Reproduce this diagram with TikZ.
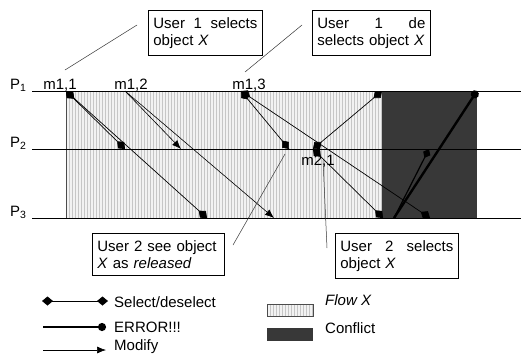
\documentclass[tikz,border=0pt]{standalone}
\usepackage{fontspec}
\setmainfont{Liberation Sans}
\usetikzlibrary{arrows.meta}
\usetikzlibrary{patterns}

\begin{document}
\begin{tikzpicture}[x=1pt, y=-1pt, >=Latex,
    every node/.style={font=\fontsize{15}{17}\selectfont, inner sep=0pt},
    proc/.style={line width=0.8pt},
    sel/.style={line width=0.7pt, {Diamond[length=11pt,width=9pt]}-{Diamond[length=11pt,width=9pt]}},
    mod/.style={line width=0.6pt, -{Latex[length=9pt,width=7pt]}},
    err/.style={line width=2.4pt, -{Circle[length=8pt]}},
    note/.style={draw, line width=0.8pt, anchor=north west, align=left,
      inner xsep=5pt, inner ysep=7pt},
    leader/.style={line width=0.5pt, black!80}]
  \useasboundingbox (0,0) rectangle (521,354);

  % flow and conflict regions
  \fill[gray!10] (66,91) rectangle (382,218);
  \fill[pattern=vertical lines, pattern color=gray!45] (66,91) rectangle (382,218);
  \draw[gray!60!black, line width=0.8pt] (66,91) -- (66,218);
  \fill[black!78] (382,91) rectangle (477,218);

  % processes
  \foreach \y/\n in {91/1, 149/2, 218/3} {
    \draw[proc] (32,\y) -- (521,\y);
    \node[anchor=base west] (P\n) at (10,\y-2) {P\textsubscript{\n}};
  }

  \coordinate (m11) at (66,91);
  \coordinate (m12) at (125,91);
  \coordinate (m13) at (241,91);
  \coordinate (m21) at (313,149);
  \coordinate (a11) at (382,91);
  \coordinate (a21) at (125,149);
  \coordinate (a22) at (289,149);
  \coordinate (a31) at (207,218);
  \coordinate (a32) at (383,218);
  \coordinate (a33) at (430,218);
  \coordinate (b21) at (181,149);
  \coordinate (b31) at (274,218);
  \coordinate (e0) at (394,218);
  \coordinate (e1) at (477,91);
  \coordinate (e2) at (429,149);

  \node[anchor=base] (t11) at (60,89) {m1,1};
  \node[anchor=base] (t12) at (131,89) {m1,2};
  \node[anchor=base] (t13) at (249,89) {m1,3};
  \node[anchor=base] (t21) at (318,165) {m2,1};

  % messages
  \draw[sel] (m11) -- (a21);
  \draw[sel] (m11) -- (a31);
  \draw[mod] (m12) -- (b21);
  \draw[mod] (m12) -- (b31);
  \draw[sel] (m13) -- (a22);
  \draw[sel] (m13) -- (a33);
  \draw[sel] (m21) -- (a11);
  \draw[sel] (m21) -- (a32);
  \draw[line width=1.2pt, -{Diamond[length=10pt,width=8pt]}] (e0) -- (e2);
  \draw[err] (e0) -- (e1);

  % notes
  \node[note, text width=104pt] (n1) at (148,10)
    {User\hfill 1\hfill selects\\ object \textit{X}};
  \node[note, text width=108pt] (n2) at (312,10)
    {User\hfill 1\hfill de\\ selects object \textit{X}};
  \node[note, text width=122pt] (n3) at (92,233)
    {User 2 see object\\ \textit{X} as \textit{released}};
  \node[note, text width=113pt] (n4) at (335,233)
    {User\hfill 2\hfill selects\\ object \textit{X}};

  \coordinate (l1a) at (137,25);  \coordinate (l1b) at (65,70);
  \coordinate (l2a) at (302,25);  \coordinate (l2b) at (245,72);
  \coordinate (l3a) at (233,245); \coordinate (l3b) at (285,154);
  \coordinate (l4a) at (327,248); \coordinate (l4b) at (323,160);
  \draw[leader] (l1a) -- (l1b);
  \draw[leader] (l2a) -- (l2b);
  \draw[leader] (l3a) -- (l3b);
  \draw[leader] (l4a) -- (l4b);

  % legend
  \coordinate (k1a) at (42,301);  \coordinate (k1b) at (108,301);
  \coordinate (k2a) at (43,327);  \coordinate (k2b) at (106,327);
  \coordinate (k3a) at (43,350);  \coordinate (k3b) at (106,350);
  \draw[sel] (k1a) -- (k1b);
  \draw[err] (k2a) -- (k2b);
  \draw[mod] (k3a) -- (k3b);
  \node[anchor=base west] (k1) at (114,307) {Select/deselect};
  \node[anchor=base west] (k2) at (114,332) {ERROR!!!};
  \node[anchor=base west] (k3) at (114,350) {Modify};

  \fill[gray!10] (267,304) rectangle (313,316);
  \fill[pattern=vertical lines, pattern color=gray!45] (267,304) rectangle (313,316);
  \draw[gray!60!black, line width=0.6pt] (267,304) rectangle (313,316);
  \fill[black!78] (267,328) rectangle (313,341);
  \node[anchor=base west] (k4) at (325,305) {\textit{Flow X}};
  \node[anchor=base west] (k5) at (325,333) {Conflict};
\end{tikzpicture}
\end{document}
